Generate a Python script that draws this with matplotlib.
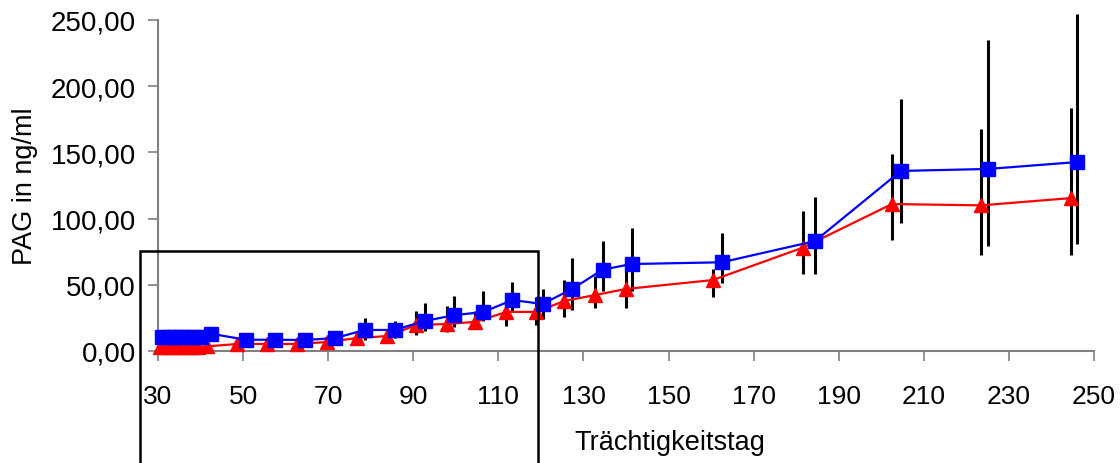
import numpy as np
import matplotlib
matplotlib.use('Agg')
import matplotlib.pyplot as plt
from matplotlib.patches import Rectangle
from matplotlib.ticker import FuncFormatter

# blue series (squares)
blue_day = [31, 32.5, 34, 35.5, 37, 38.5, 40, 42.5, 50.7, 57.5, 64.6, 71.7, 78.6, 85.6,
            92.8, 99.5, 106.5, 113.3, 120.4, 127.4, 134.5, 141.3, 162.5, 184.4, 204.6, 225.1, 246]
blue_val = [10.5, 10.5, 10.5, 10.5, 10.5, 10.5, 10.5, 13.0, 8.5, 8.5, 8.3, 9.8, 15.9, 15.9,
            22.7, 27.0, 29.5, 38.5, 35.5, 47.0, 61.4, 65.7, 67.0, 83.0, 136.0, 137.5, 142.7]
blue_lo = [10.5, 10.5, 10.5, 10.5, 10.5, 10.5, 10.5, 13.0, 8.5, 8.5, 8.3, 9.8, 8.3, 9.8,
           15.0, 18.0, 22.7, 29.5, 24.0, 31.0, 45.0, 45.0, 51.0, 58.0, 97.0, 79.0, 81.0]
blue_hi = [10.5, 10.5, 10.5, 10.5, 10.5, 10.5, 10.5, 13.0, 8.5, 8.5, 8.3, 9.8, 25.0, 22.7,
           36.5, 41.5, 45.0, 52.0, 47.0, 70.0, 83.0, 93.0, 89.0, 116.0, 190.0, 235.0, 254.5]

# red series (triangles)
red_day = [30.5, 32, 33.5, 35, 36.5, 38, 39.5, 41.5, 48.6, 55.6, 62.7, 69.8, 76.8, 83.9,
           90.7, 98.0, 104.6, 111.9, 118.9, 125.5, 132.8, 139.9, 160.4, 181.5, 202.5, 223.4, 244.6]
red_val = [3.0, 3.0, 3.0, 3.0, 3.0, 3.0, 3.0, 3.5, 5.3, 5.3, 5.3, 6.8, 9.8, 11.3,
           19.6, 20.4, 22.0, 29.5, 29.5, 37.8, 42.3, 46.8, 53.6, 78.0, 111.0, 110.0, 115.5]
red_lo = [3.0, 3.0, 3.0, 3.0, 3.0, 3.0, 3.0, 3.5, 5.3, 5.3, 5.3, 6.8, 9.8, 10.0,
          12.0, 14.0, 16.6, 19.0, 20.0, 26.0, 32.5, 32.5, 41.0, 58.0, 84.0, 72.5, 72.5]
red_hi = [3.0, 3.0, 3.0, 3.0, 3.0, 3.0, 3.0, 3.5, 5.3, 5.3, 5.3, 6.8, 9.8, 14.0,
          30.0, 34.0, 30.0, 41.5, 41.0, 54.0, 57.0, 69.0, 62.0, 105.7, 149.0, 167.7, 183.5]

x_ticks = list(range(30, 251, 20))
y_ticks = [0, 50, 100, 150, 200, 250]

plt.rcParams['font.family'] = ['Liberation Sans', 'DejaVu Sans']

fig = plt.figure(figsize=(11.2, 4.64), dpi=100)
ax = fig.add_axes([158 / 1120, 1 - 352 / 464, (1094 - 158) / 1120, (352 - 21) / 464])


def draw(days, vals, lo, hi, color, marker):
    vals = np.array(vals)
    yerr = [vals - np.array(lo), np.array(hi) - vals]
    eb = ax.errorbar(days, vals, yerr=yerr, fmt='none', ecolor='black', elinewidth=2.2,
                     capsize=0, zorder=2)
    for c in eb[2]:
        c.set_clip_on(False)
    ax.plot(days, vals, color=color, lw=1.6, marker=marker, markersize=10.5,
            markerfacecolor=color, markeredgecolor=color, zorder=3, clip_on=False)


draw(red_day, red_val, red_lo, red_hi, '#ff0000', '^')
draw(blue_day, blue_val, blue_lo, blue_hi, '#0000ff', 's')

ax.set_xlim(30, 250)
ax.set_ylim(0, 250)
ax.set_xticks(x_ticks)
ax.set_yticks(y_ticks)
ax.yaxis.set_major_formatter(FuncFormatter(lambda v, p: f'{v:.2f}'.replace('.', ',')))
for s in ['top', 'right']:
    ax.spines[s].set_visible(False)
for s in ['left', 'bottom']:
    ax.spines[s].set_color('#808080')
    ax.spines[s].set_linewidth(1.5)
ax.tick_params(axis='both', direction='out', color='#808080', width=1.2, length=7)
ax.tick_params(axis='y', labelsize=20, pad=9)
ax.tick_params(axis='x', labelsize=19, pad=17)

ax.set_ylabel('PAG in ng/ml', fontsize=19.5, labelpad=9)
fig.text(670 / 1120, 1 - 443 / 464, 'Trächtigkeitstag', fontsize=19.5,
         ha='center', va='center')

# annotation box around the early part
fig.patches.append(Rectangle((140 / 1120, -0.02), 398 / 1120, (464 - 252) / 464 + 0.02,
                             transform=fig.transFigure, fill=False, edgecolor='black',
                             linewidth=1.8, zorder=10))

fig.savefig('out.png', dpi=100)
